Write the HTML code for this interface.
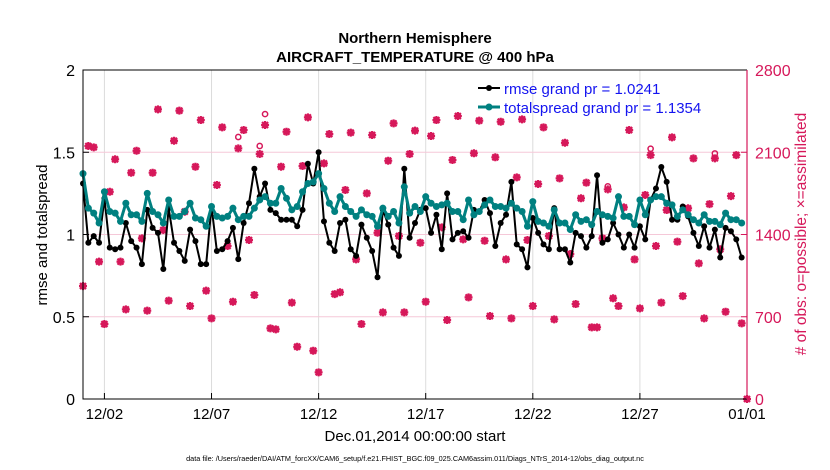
<!DOCTYPE html>
<html><head><meta charset="utf-8"><style>
body{margin:0;background:#fff;}
svg{display:block;font-family:"Liberation Sans",Arial,sans-serif;}
</style></head><body>
<svg id="chart" width="830" height="470" viewBox="0 0 830 470">
<g id="grid"></g>
<g id="marks"></g>
<g id="axes"></g>
<text x="415" y="43" text-anchor="middle" font-size="15" font-weight="bold">Northern Hemisphere</text>
<text x="415" y="62" text-anchor="middle" font-size="15" font-weight="bold">AIRCRAFT_TEMPERATURE @ 400 hPa</text>
<text transform="translate(47,235) rotate(-90)" text-anchor="middle" font-size="15">rmse and totalspread</text>
<text transform="translate(806,234) rotate(-90)" text-anchor="middle" font-size="15.5" fill="#d6185a"># of obs: o=possible; ×=assimilated</text>
<text x="415" y="441" text-anchor="middle" font-size="15">Dec.01,2014 00:00:00 start</text>
<text x="415" y="461" text-anchor="middle" font-size="7.3">data file: /Users/raeder/DAI/ATM_forcXX/CAM6_setup/f.e21.FHIST_BGC.f09_025.CAM6assim.011/Diags_NTrS_2014-12/obs_diag_output.nc</text>
<g>
<line x1="478" y1="88" x2="500" y2="88" stroke="#000" stroke-width="2"/>
<circle cx="489" cy="88" r="3" fill="#000"/>
<text x="504" y="94" font-size="15" fill="#1414f0">rmse grand pr = 1.0241</text>
<line x1="478" y1="107" x2="500" y2="107" stroke="#008080" stroke-width="3"/>
<circle cx="489" cy="107" r="3.5" fill="#008080"/>
<text x="504" y="113" font-size="15" fill="#1414f0">totalspread grand pr = 1.1354</text>
</g>
</svg>
<script>
const rmse=[1.31,0.95,0.99,0.95,1.22,0.92,0.91,0.92,1.07,0.96,0.92,0.82,1.15,1.04,1.01,0.79,1.16,0.95,0.90,0.84,1.03,0.96,0.82,0.82,1.17,0.90,0.91,0.96,1.04,0.85,1.07,1.19,1.40,1.23,1.31,1.15,1.13,1.09,1.09,1.09,1.05,1.15,
1.43,1.31,1.50,1.08,0.95,0.90,1.07,1.09,0.91,0.87,1.06,0.98,0.90,0.74,1.15,1.06,0.92,0.87,1.40,0.98,1.07,1.15,1.16,1.01,1.12,0.91,1.25,0.97,1.01,1.02,0.98,1.15,1.14,1.21,1.13,0.93,1.07,1.12,1.32,0.94,
0.91,0.80,1.10,1.01,0.94,0.91,1.16,0.91,0.91,0.83,1.01,0.99,0.92,0.99,1.36,0.95,0.97,1.07,1.00,0.92,1.00,0.92,1.05,0.97,1.21,1.28,1.41,1.32,1.09,1.09,1.17,1.11,1.01,0.93,1.05,0.92,1.03,0.86,1.04,1.02,0.97,0.86];
const spread=[1.37,1.16,1.13,1.07,1.26,1.14,1.13,1.08,1.19,1.12,1.12,1.08,1.25,1.14,1.12,1.07,1.21,1.11,1.11,1.14,1.19,1.10,1.09,1.05,1.17,1.11,1.10,1.11,1.16,1.09,1.11,1.11,1.16,1.21,1.23,1.19,1.19,1.28,1.22,1.15,1.17,1.26,
1.31,1.32,1.37,1.28,1.19,1.14,1.23,1.17,1.14,1.11,1.15,1.12,1.11,1.05,1.16,1.11,1.14,1.07,1.29,1.13,1.17,1.14,1.23,1.19,1.17,1.18,1.19,1.14,1.14,1.09,1.21,1.12,1.14,1.18,1.21,1.17,1.17,1.16,1.19,1.16,
1.14,1.05,1.20,1.08,1.07,1.05,1.15,1.07,1.07,1.03,1.12,1.08,1.09,1.06,1.14,1.12,1.11,1.10,1.23,1.11,1.11,1.06,1.21,1.12,1.21,1.23,1.23,1.19,1.18,1.11,1.15,1.12,1.09,1.07,1.12,1.08,1.08,1.06,1.13,1.09,1.09,1.07];
const assimilated=[961,2153,2142,1169,638,1764,2040,1169,763,1926,2113,1367,752,1926,2465,1438,837,2198,2454,1594,791,1977,2374,922,686,1821,2312,1302,828,2133,2289,1353,885,2085,2332,601,593,1977,2275,820,445,1983,
2397,411,227,2005,2255,893,908,1779,2267,1188,638,1750,2247,1415,737,2028,2346,1387,737,2085,2284,1330,828,2238,2374,1461,672,2034,2408,1359,865,2091,2369,1347,706,2057,2360,1188,686,1886,
2380,1353,791,1830,2312,1387,678,1878,2181,1234,808,1708,1841,610,610,1367,1784,857,791,1631,2289,1188,771,1736,2076,1302,820,1608,2227,1339,876,1623,2048,1154,686,1659,2048,1274,743,1727,2076,644,0];
const possible=assimilated.slice();
possible[29]=2230;possible[33]=2153;possible[34]=2425;possible[98]=1810;possible[106]=2130;possible[118]=2090;
const xTickLabels=["12/02","12/07","12/12","12/17","12/22","12/27","01/01"];
const xTickDays=[1,6,11,16,21,26,31];
const yTicksL=[0,0.5,1,1.5,2];
const yTicksR=[0,700,1400,2100,2800];

const L=83,R=747,T=70,B=399;
const xs=d=>L+(R-L)*d/31;
const yl=v=>B-(B-T)*v/2;
const yr=v=>B-(B-T)*v/2800;
const NS="http://www.w3.org/2000/svg";
function mk(tag,at,parent){const e=document.createElementNS(NS,tag);for(const k in at)e.setAttribute(k,at[k]);parent.appendChild(e);return e;}
const grid=document.getElementById('grid'),marks=document.getElementById('marks'),axes=document.getElementById('axes');

xTickDays.forEach((d,i)=>{
  const g=mk('line',{x1:xs(d),x2:xs(d),y1:T,y2:B,stroke:'#dcdcdc','stroke-width':1},grid);
  
  
  const t=mk('line',{x1:xs(d),x2:xs(d),y1:B,y2:B-6,stroke:'#000','stroke-width':1},axes);
  
  
  const tx=mk('text',{x:xs(d),y:B+20,'text-anchor':'middle','font-size':15},axes);
  tx.textContent=xTickLabels[i];
  
  
});
yTicksL.forEach(v=>{
  if(v>0&&v<2){const g=mk('line',{x1:L,x2:R,y1:yl(v),y2:yl(v),stroke:'#f5c8d8','stroke-width':1},grid);
  
  }
  const t=mk('line',{x1:L,x2:L+6,y1:yl(v),y2:yl(v),stroke:'#000'},axes);
  
  
  const tx=mk('text',{x:L-8,y:yl(v)+6,'text-anchor':'end','font-size':16},axes);
  tx.textContent=String(v);
  
  
});
yTicksR.forEach(v=>{
  const t=mk('line',{x1:R,x2:R-6,y1:yr(v),y2:yr(v),stroke:'#d6185a'},axes);
  
  
  const tx=mk('text',{x:R+8,y:yr(v)+6,'font-size':16,fill:'#d6185a'},axes);
  tx.textContent=String(v);
  
  
});
const frame=mk('path',{d:`M${R},${T}H${L}V${B}H${R}`,fill:'none',stroke:'#000','stroke-width':1},axes);


const rax=mk('line',{x1:R,x2:R,y1:T,y2:B,stroke:'#d6185a','stroke-width':1.2},axes);



const pc='#d6185a';
assimilated.forEach((v,i)=>{
  const x=xs(i*0.25);
  const po=mk('circle',{cx:x,cy:yr(possible[i]),r:2.6,fill:'none',stroke:pc,'stroke-width':1.5},marks);
  
  
  const y=yr(v),s=4;
  const a=mk('path',{d:`M${x-s},${y}H${x+s}M${x},${y-s}V${y+s}M${x-3},${y-3}L${x+3},${y+3}M${x-3},${y+3}L${x+3},${y-3}`,stroke:pc,'stroke-width':2.2,fill:'none'},marks);
  
  
});
function series(vals,color,w,r,name){
  const d=vals.map((v,i)=>(i?'L':'M')+xs(i*0.25)+','+yl(v)).join('');
  const p=mk('path',{d:d,fill:'none',stroke:color,'stroke-width':w,'stroke-linejoin':'round'},marks);
  
  
  vals.forEach((v,i)=>{
    const c=mk('circle',{cx:xs(i*0.25),cy:yl(v),r:r,fill:color},marks);
    
    
  });
}
series(rmse,'#000',2,3,'rmse');
series(spread,'#008080',3,3.5,'totalspread');
</script>
</body></html>
